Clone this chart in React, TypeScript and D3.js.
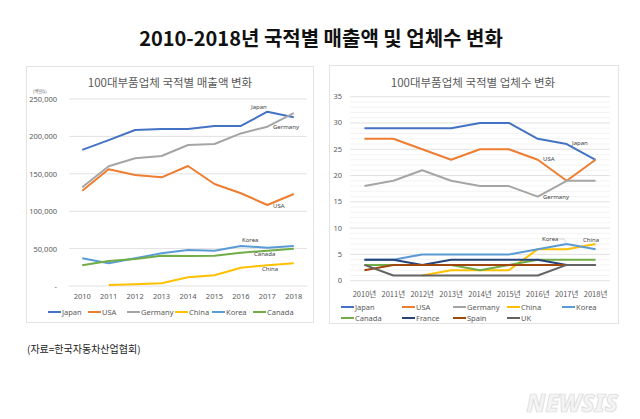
import React from "react";
import * as d3 from "d3";

const years = ["2010", "2011", "2012", "2013", "2014", "2015", "2016", "2017", "2018"];
const yearsKr = years.map((y) => y + "년");

// Sales (million $)
const salesJapan = [182000, 195000, 208500, 210000, 210000, 214000, 214000, 233000, 225500];
const salesUSA = [127400, 156000, 148400, 145300, 160400, 136400, 124000, 108300, 123000];
const salesGermany = [132000, 160000, 170700, 173800, 188500, 189800, 204000, 213000, 231000];
const salesChina = [null, 1300, 2200, 3600, 11600, 14300, 24500, 27700, 30300];
const salesKorea = [37000, 30300, 37000, 43700, 48000, 47200, 53500, 51200, 53500];
const salesCanada = [27700, 33400, 36100, 40500, 40100, 40500, 44500, 47200, 49900];
const salesTicks = [0, 50000, 100000, 150000, 200000, 250000];

// Number of companies
const cntJapan = [29, 29, 29, 29, 30, 30, 27, 26, 23];
const cntUSA = [27, 27, 25, 23, 25, 25, 23, 19, 23];
const cntGermany = [18, 19, 21, 19, 18, 18, 16, 19, 19];
const cntChina = [null, null, 1, 2, 2, 2, 6, 6, 7];
const cntKorea = [4, 4, 5, 5, 5, 5, 6, 7, 6];
const cntCanada = [3, 3, 3, 3, 2, 3, 4, 4, 4];
const cntFrance = [4, 4, 3, 4, 4, 4, 4, 3, 3];
const cntSpain = [2, 3, 3, 3, 3, 3, 3, 3, 3];
const cntUK = [3, 1, 1, 1, 1, 1, 1, 3, 3];
const cntTicks = [0, 5, 10, 15, 20, 25, 30, 35];

const C = {
  Japan: "#4472C4",
  USA: "#ED7D31",
  Germany: "#A5A5A5",
  China: "#FFC000",
  Korea: "#5B9BD5",
  Canada: "#70AD47",
  France: "#264478",
  Spain: "#9E480E",
  UK: "#636363",
};

type S = { name: string; values: (number | null)[] };

const salesSeries: S[] = [
  { name: "Japan", values: salesJapan },
  { name: "USA", values: salesUSA },
  { name: "Germany", values: salesGermany },
  { name: "China", values: salesChina },
  { name: "Korea", values: salesKorea },
  { name: "Canada", values: salesCanada },
];

const cntSeries: S[] = [
  { name: "Japan", values: cntJapan },
  { name: "USA", values: cntUSA },
  { name: "Germany", values: cntGermany },
  { name: "China", values: cntChina },
  { name: "Korea", values: cntKorea },
  { name: "Canada", values: cntCanada },
  { name: "France", values: cntFrance },
  { name: "Spain", values: cntSpain },
  { name: "UK", values: cntUK },
];

const KR = "'Noto Sans CJK KR', 'Noto Sans', sans-serif";
const LAT = "'Noto Sans', 'Liberation Sans', sans-serif";

export default function App() {
  // Left chart
  const xL = d3.scaleBand<string>().domain(years).range([69, 307]);
  const yL = d3.scaleLinear().domain([0, 250000]).range([286, 99]);
  const lineL = d3
    .line<number | null>()
    .defined((d) => d != null)
    .x((_, i) => (xL(years[i]) as number) + xL.bandwidth() / 2)
    .y((d) => yL(d as number));

  // Right chart
  const xR = d3.scaleBand<string>().domain(years).range([350, 610]);
  const yR = d3.scaleLinear().domain([0, 35]).range([280.7, 96.7]);
  const lineR = d3
    .line<number | null>()
    .defined((d) => d != null)
    .x((_, i) => (xR(years[i]) as number) + xR.bandwidth() / 2)
    .y((d) => yR(d as number));
  const minor = d3.range(0, 36);

  const fmt = d3.format(",");
  const cx = (x: d3.ScaleBand<string>, i: number) => (x(years[i]) as number) + x.bandwidth() / 2;

  const legL = [48, 88, 127, 175, 212, 253];
  const legRcols = [341, 402, 453, 507, 562];

  return (
    <svg width={640} height={419} style={{ position: "absolute", left: 0, top: 0, background: "#fff" }}>
      <rect x={0} y={0} width={640} height={419} fill="#fff" />
      <text x={321} y={46} textAnchor="middle" fontFamily={KR} fontWeight={700} fontSize={20} fill="#111">
        2010-2018년 국적별 매출액 및 업체수 변화
      </text>

      {/* Left panel */}
      <rect x={26.5} y={66.5} width={287} height={256} fill="#fff" stroke="#e3e3e3" />
      <text x={170} y={87} textAnchor="middle" fontFamily={KR} fontSize={11.5} fill="#595959">
        100대부품업체 국적별 매출액 변화
      </text>
      <text x={33} y={93} fontFamily={KR} fontSize={4.5} fill="#595959">(백만$)</text>
      {salesTicks.map((t) => (
        <g key={t}>
          {t > 0 && <line x1={69} x2={307} y1={yL(t)} y2={yL(t)} stroke="#d9d9d9" strokeWidth={0.8} />}
          <text x={57} y={yL(t) + 3} textAnchor="end" fontFamily={LAT} fontSize={7.5} fill="#595959">
            {t === 0 ? "-" : fmt(t)}
          </text>
        </g>
      ))}
      <line x1={69} x2={307} y1={yL(0)} y2={yL(0)} stroke="#d9d9d9" strokeWidth={0.8} />
      {years.map((y, i) => (
        <text key={y} x={cx(xL, i)} y={299} textAnchor="middle" fontFamily={LAT} fontSize={7.5} fill="#595959">
          {y}
        </text>
      ))}
      {salesSeries.map((s) => (
        <path key={s.name} d={lineL(s.values) || ""} fill="none" stroke={(C as any)[s.name]} strokeWidth={2} strokeLinejoin="round" />
      ))}
      <g fontFamily={LAT} fontSize={6} fill="#404040">
        <text x={251} y={109}>Japan</text>
        <text x={273} y={129}>Germany</text>
        <text x={273} y={208}>USA</text>
        <text x={242} y={242}>Korea</text>
        <text x={254} y={256}>Canada</text>
        <text x={262} y={271}>China</text>
      </g>
      {salesSeries.map((s, i) => (
        <g key={s.name}>
          <line x1={legL[i]} x2={legL[i] + 13} y1={312} y2={312} stroke={(C as any)[s.name]} strokeWidth={2} />
          <text x={legL[i] + 14} y={314.5} fontFamily={LAT} fontSize={7.5} fill="#595959">{s.name}</text>
        </g>
      ))}

      {/* Right panel */}
      <rect x={329.5} y={65.5} width={289} height={258} fill="#fff" stroke="#e3e3e3" />
      <text x={473} y={87} textAnchor="middle" fontFamily={KR} fontSize={11.5} fill="#595959">
        100대부품업체 국적별 업체수 변화
      </text>
      {minor.map((t) => (
        <line key={"m" + t} x1={350} x2={610} y1={yR(t)} y2={yR(t)} stroke={t % 5 === 0 ? "#d9d9d9" : "#f0f0f0"} strokeWidth={0.8} />
      ))}
      {cntTicks.map((t) => (
        <text key={t} x={342} y={yR(t) + 2.5} textAnchor="end" fontFamily={LAT} fontSize={7.5} fill="#595959">
          {t}
        </text>
      ))}
      {yearsKr.map((y, i) => (
        <text key={y} x={cx(xR, i)} y={297} textAnchor="middle" fontFamily={KR} fontSize={7.5} fill="#595959">
          {y}
        </text>
      ))}
      {cntSeries.map((s) => (
        <path key={s.name} d={lineR(s.values) || ""} fill="none" stroke={(C as any)[s.name]} strokeWidth={2} strokeLinejoin="round" />
      ))}
      <g fontFamily={LAT} fontSize={6} fill="#404040">
        <text x={572} y={145}>Japan</text>
        <text x={543} y={161}>USA</text>
        <text x={543} y={199}>Germany</text>
        <text x={542} y={241}>Korea</text>
        <text x={583} y={242}>China</text>
      </g>
      <polyline points={`559,239 564,239 ${cx(xR, 7)},${yR(7)}`} fill="none" stroke="#bfbfbf" strokeWidth={0.6} />
      {cntSeries.map((s, i) => {
        const col = i % 5;
        const row = Math.floor(i / 5);
        const lx = legRcols[col];
        const ly = 307 + row * 11;
        return (
          <g key={s.name}>
            <line x1={lx} x2={lx + 13} y1={ly} y2={ly} stroke={(C as any)[s.name]} strokeWidth={2} />
            <text x={lx + 14} y={ly + 2.5} fontFamily={LAT} fontSize={7.5} fill="#595959">{s.name}</text>
          </g>
        );
      })}

      <text x={27} y={353} fontFamily={KR} fontSize={10} fill="#222">(자료=한국자동차산업협회)</text>
      <text x={618} y={412} textAnchor="end" fontFamily={LAT} fontStyle="italic" fontWeight={900} fontSize={24} fill="#f4f4f4" stroke="#d8d8d8" strokeWidth={0.7}>
        NEWSIS
      </text>
    </svg>
  );
}
